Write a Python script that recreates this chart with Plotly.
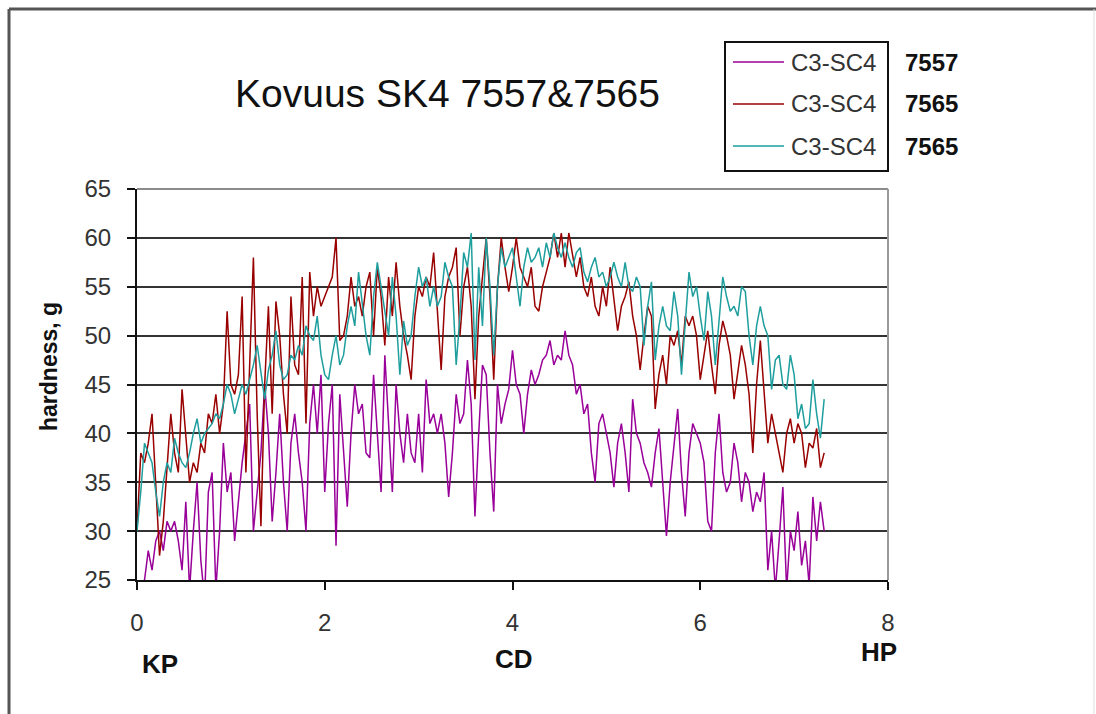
import plotly.graph_objects as go

# ---------------- data ----------------
x_step = 0.04  # distance between measurement points

purple_7557 = [
    21, 23, 25, 28, 26, 29, 30, 28, 31, 30,
    31, 29, 26, 33, 24, 30, 35, 27, 23, 34,
    36, 24, 30, 39, 34, 36, 29, 33, 37, 40,
    43, 30, 34, 38, 45, 40, 31, 36, 42, 35,
    30, 39, 42, 38, 35, 30, 41, 45, 40, 46,
    34, 41, 45, 28.5, 44, 38, 32.5, 40, 45, 42,
    43, 38, 37.5, 46, 40, 34, 48, 41, 34, 45,
    40, 37, 42, 38, 37, 42, 36, 45.5, 41, 42,
    40, 42, 39, 33.5, 38, 44, 41, 42, 47.5, 43,
    31.5, 40, 47, 46, 38, 32, 45, 41, 43, 44.5,
    48.5, 45, 44, 40, 44, 46.5, 45, 46, 47.5, 48,
    49.5, 47, 48, 47.5, 50.5, 48, 47, 44, 45, 42,
    43, 38, 35, 41, 42, 40, 38, 34.5, 39, 41,
    38, 34, 43.5, 40, 39, 37, 36, 34.5, 38, 40.5,
    35, 29.5, 35, 39, 42.5, 36, 31.5, 38, 41, 40,
    39, 37, 31, 30, 38, 42, 36, 34, 35, 39,
    37, 33, 36, 35, 32, 34, 33, 36, 26, 30,
    24, 29, 34.5, 24, 30, 28, 32, 26.5, 29, 24.5,
    33.5, 29, 33, 30,
]

red_7565 = [
    30, 38, 37, 39, 42, 35, 27.5, 31, 36, 42,
    38, 36, 44.5, 40, 35, 37, 36, 39, 38, 42,
    41, 44, 40, 43, 52.5, 45, 44, 46, 54, 36,
    46, 58, 42, 30.5, 45, 53, 42, 53.5, 50, 44,
    40, 54, 47, 46, 56, 41, 56.5, 52, 55, 53,
    54, 55, 56, 60, 49.5, 50, 52, 56, 53, 54,
    52, 55, 56.5, 50, 57, 54, 49, 56, 52, 57.5,
    53, 50, 48, 45.5, 52, 55, 54, 56, 55, 58.5,
    52, 46.5, 54, 56, 57, 59, 50, 55, 57, 53,
    43.5, 52, 56, 60, 54, 45.5, 55, 60, 57, 54.5,
    57, 60, 57, 56, 55, 57, 53, 52.5, 55, 56.5,
    58, 60.5, 58, 60.5, 57, 60.5, 58, 56, 58, 55,
    54, 56, 53, 52, 55, 53, 57, 54, 50.5, 53,
    54, 55.5, 52, 50, 46.5, 50, 53, 52, 42.5, 46,
    48, 45, 50, 49, 50.5, 47, 52, 51, 52, 50,
    45.5, 48, 50.5, 47, 44, 49, 51.5, 50, 48, 43.5,
    46, 49, 47, 44, 38, 45, 49.5, 44, 39, 42,
    40, 38, 36, 40, 41.5, 39, 41, 40, 36.5, 39,
    38.5, 40.5, 36.5, 38,
]

teal_7565 = [
    30, 34, 39, 38, 37, 34, 31.5, 35, 37, 36,
    39.5, 38, 37, 36.5, 38, 40, 41.5, 39, 40, 40.5,
    41, 42, 41.5, 43, 45, 44, 42, 43.5, 45, 44,
    45.5, 47, 49, 46, 43.5, 46.5, 48, 50.5, 47, 45.5,
    46, 48, 47.5, 49, 48, 51, 50, 49.5, 52, 48,
    46, 45.5, 48, 50, 47, 48, 51, 53, 51, 56.5,
    53, 50, 48, 54, 57.5, 55, 53, 50, 56, 52,
    46, 51.5, 49, 50, 54, 57, 55, 56, 53, 55,
    53, 54, 57.5, 56, 55, 47, 52, 58.5, 57, 60.5,
    47.5, 57, 51, 60, 55, 48, 55, 59, 57, 58,
    59, 56, 53, 57, 59, 57.5, 58, 59, 57, 59.5,
    58, 60.5, 59, 58, 59.5, 58, 57, 58.5, 59, 56.5,
    55.5, 57, 58, 56, 56.5, 55, 56, 57.5, 56, 55,
    57.5, 55, 54.5, 56, 55, 49, 53, 55.5, 47.5, 51,
    53, 51, 50.5, 54.5, 52, 46, 51, 56.5, 54, 55,
    52, 49.5, 54.5, 52, 47, 52, 56, 54, 52.5, 53,
    52, 55, 54.5, 50, 47, 51, 53, 51, 50, 44.5,
    47.5, 48, 45, 44.5, 48, 46, 41.5, 43, 40.5, 41,
    45.5, 42, 39.5, 43.5,
]

series_values = [purple_7557, red_7565, teal_7565]
series_names = ["C3-SC4", "C3-SC4", "C3-SC4"]
series_ids = ["7557", "7565", "7565"]
series_colors = ["#990099", "#990000", "#1f9e9e"]

x_ticks = [0, 2, 4, 6, 8]
y_ticks = [25, 30, 35, 40, 45, 50, 55, 60, 65]

title_text = "Kovuus SK4 7557&7565"
y_title = "hardness, g"
position_labels = ["KP", "CD", "HP"]

# ---------------- layout helpers ----------------
W, H = 1096, 714
PL, PR, PT, PB = 137, 888, 189, 580  # plot area in pixels


def px(x):
    return (x - PL) / (PR - PL)


def py(y):
    return (PB - y) / (PB - PT)


FONT = "Liberation Sans, Arial, sans-serif"

fig = go.Figure()
for vals, name, col in zip(series_values, series_names, series_colors):
    xs = [round(i * x_step, 2) for i in range(len(vals))]
    fig.add_trace(go.Scatter(x=xs, y=vals, mode="lines", name=name,
                             line=dict(color=col, width=1.5),
                             showlegend=False))

fig.update_layout(
    width=W, height=H,
    margin=dict(l=PL, r=W - PR, t=PT, b=H - PB, pad=0),
    paper_bgcolor="white", plot_bgcolor="white",
    font=dict(family=FONT, color="#222222"),
    xaxis=dict(range=[0, 8], tickvals=x_ticks, showgrid=False, zeroline=False,
               showline=True, linecolor="#111111", linewidth=2,
               ticks="outside", ticklen=8, tickwidth=2, tickcolor="#111111",
               tickfont=dict(size=24, color="#333333"),
               ticklabelstandoff=12),
    yaxis=dict(range=[25, 65], tickvals=y_ticks, showgrid=True,
               gridcolor="#333333", gridwidth=2, zeroline=False,
               showline=True, linecolor="#111111", linewidth=2,
               ticks="outside", ticklen=8, tickwidth=2, tickcolor="#111111",
               tickfont=dict(size=24, color="#333333"),
               ticklabelstandoff=11),
)

shapes = []
# grey plot-area border at top and right
shapes.append(dict(type="line", xref="paper", yref="paper", x0=0, x1=1, y0=1, y1=1,
                   line=dict(color="#8c8c8c", width=2)))
shapes.append(dict(type="line", xref="paper", yref="paper", x0=1, x1=1, y0=0, y1=1,
                   line=dict(color="#9a9a9a", width=2)))
# outer chart border
shapes.append(dict(type="line", xref="paper", yref="paper", x0=px(9), x1=px(1096),
                   y0=py(9), y1=py(9), line=dict(color="#555555", width=3)))
shapes.append(dict(type="line", xref="paper", yref="paper", x0=px(9), x1=px(9),
                   y0=py(9), y1=py(716), line=dict(color="#555555", width=3)))
shapes.append(dict(type="line", xref="paper", yref="paper", x0=px(1094), x1=px(1094),
                   y0=py(9), y1=py(716), line=dict(color="#dddddd", width=1)))
# legend box
shapes.append(dict(type="rect", xref="paper", yref="paper", x0=px(725), x1=px(888),
                   y0=py(42), y1=py(171), line=dict(color="#111111", width=2),
                   fillcolor="white"))

annotations = []
row_y = [62, 104, 146]
for ry, name, sid, col in zip(row_y, series_names, series_ids, series_colors):
    shapes.append(dict(type="line", xref="paper", yref="paper", x0=px(733), x1=px(784),
                       y0=py(ry), y1=py(ry), line=dict(color=col, width=1.6)))
    annotations.append(dict(xref="paper", yref="paper", x=px(789), y=py(ry),
                            text=name, showarrow=False, xanchor="left", yanchor="middle",
                            font=dict(size=24, color="#333333")))
    annotations.append(dict(xref="paper", yref="paper", x=px(903), y=py(ry),
                            text="<b>%s</b>" % sid, showarrow=False, xanchor="left",
                            yanchor="middle", font=dict(size=24, color="#111111")))

annotations.append(dict(xref="paper", yref="paper", x=px(447), y=py(94), text=title_text,
                        showarrow=False, xanchor="center", yanchor="middle",
                        font=dict(size=39, color="#111111")))
annotations.append(dict(xref="paper", yref="paper", x=px(49), y=py(367),
                        text="<b>%s</b>" % y_title, textangle=-90, showarrow=False,
                        xanchor="center", yanchor="middle",
                        font=dict(size=23, color="#111111")))
for lbl, (lx, ly) in zip(position_labels, [(160, 664), (514, 659), (879, 652)]):
    annotations.append(dict(xref="paper", yref="paper", x=px(lx), y=py(ly),
                            text="<b>%s</b>" % lbl, showarrow=False,
                            xanchor="center", yanchor="middle",
                            font=dict(size=26, color="#111111")))

fig.update_layout(shapes=shapes, annotations=annotations)
fig.write_html("out.html")
